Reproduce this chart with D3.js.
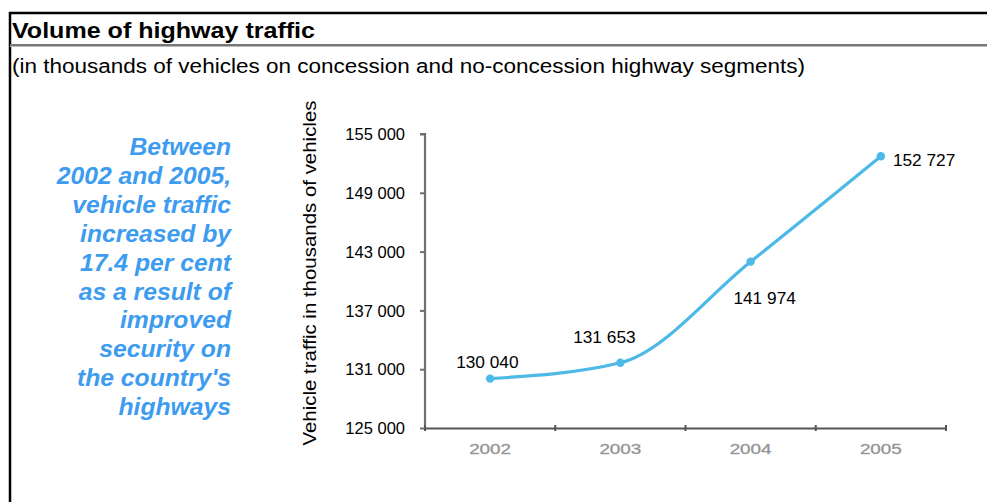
<!DOCTYPE html>
<html><head><meta charset="utf-8">
<script src="https://cdn.jsdelivr.net/npm/d3@7"></script>
<style>body{margin:0;background:#fff}svg{display:block}</style>
</head><body>
<script>
const title = "Volume of highway traffic";
const subtitle = "(in thousands of vehicles on concession and no-concession highway segments)";
const years = ["2002", "2003", "2004", "2005"];
const traffic = [130040, 131653, 141974, 152727];
const valueLabels = ["130 040", "131 653", "141 974", "152 727"];
const yTicks = [125000, 131000, 137000, 143000, 149000, 155000];
const yTitle = "Vehicle traffic in thousands of vehicles";
const note = ["Between", "2002 and 2005,", "vehicle traffic", "increased by", "17.4 per cent", "as a result of", "improved", "security on", "the country's", "highways"];

const W = 987, H = 502;
const svg = d3.select("body").append("svg").attr("width", W).attr("height", H);
const font = "'Liberation Sans', Arial, sans-serif";

// frame
svg.append("line").attr("x1", 9).attr("x2", W).attr("y1", 13).attr("y2", 13).attr("stroke", "#000").attr("stroke-width", 2.5);
svg.append("line").attr("x1", 10).attr("x2", 10).attr("y1", 12).attr("y2", H).attr("stroke", "#000").attr("stroke-width", 2.5);
svg.append("line").attr("x1", 10).attr("x2", W).attr("y1", 45).attr("y2", 45).attr("stroke", "#777").attr("stroke-width", 2);
svg.append("line").attr("x1", 10).attr("x2", W).attr("y1", 46.5).attr("y2", 46.5).attr("stroke", "#bbb").attr("stroke-width", 1);

svg.append("text").attr("x", 12).attr("y", 38).attr("font-family", font).attr("font-weight", "bold")
  .attr("font-size", 21.5).attr("fill", "#000").attr("textLength", 303).attr("lengthAdjust", "spacingAndGlyphs").text(title);
svg.append("text").attr("x", 12).attr("y", 73).attr("font-family", font)
  .attr("font-size", 20).attr("fill", "#000").attr("textLength", 793).attr("lengthAdjust", "spacingAndGlyphs").text(subtitle);

// note
const nt = svg.append("text").attr("font-family", font).attr("font-weight", "bold").attr("font-style", "italic")
  .attr("font-size", 24.7).attr("fill", "#3d9cf0").attr("text-anchor", "end");
note.forEach((l, i) => nt.append("tspan").attr("x", 231).attr("y", 155 + i * 28.9).text(l));

// scales
const x0 = 425, x1 = 946, yb = 428, yt = 134;
const x = d3.scaleBand().domain(years).range([x0, x1]).padding(0);
const y = d3.scaleLinear().domain([125000, 155000]).range([yb, yt]);

// y axis
const ya = svg.append("g").attr("transform", `translate(${x0},0)`)
  .call(d3.axisLeft(y).tickValues(yTicks).tickSize(5).tickFormat((d) => d3.format(",")(d).replace(",", " ")));
ya.select(".domain").attr("stroke", "#6f6f6f").attr("stroke-width", 2.2).attr("d", `M-5,${yt}H0V${yb}`);
ya.selectAll(".tick line").attr("stroke", "#6f6f6f").attr("stroke-width", 2);
ya.selectAll(".tick text").attr("font-family", font).attr("font-size", 16.5).attr("fill", "#000").attr("x", -20).attr("dy", "0.35em");

// x axis
const xa = svg.append("g").attr("transform", `translate(0,${yb})`)
  .call(d3.axisBottom(x).tickSize(0).tickPadding(15));
xa.select(".domain").attr("stroke", "#555").attr("stroke-width", 2);
xa.selectAll(".tick text").attr("font-family", font).attr("font-size", 15).attr("fill", "#8a8a8a")
  .attr("stroke", "#aaa").attr("stroke-width", 0.4).attr("textLength", 42).attr("lengthAdjust", "spacingAndGlyphs");
// boundary ticks
xa.selectAll(".bt").data(years.concat(["end"])).enter().append("line").attr("class", "bt")
  .attr("x1", (d, i) => x0 + i * x.step()).attr("x2", (d, i) => x0 + i * x.step())
  .attr("y1", -3).attr("y2", 3).attr("stroke", "#555").attr("stroke-width", 2);

// line
const pts = years.map((d, i) => [x(d) + x.bandwidth() / 2, y(traffic[i])]);
svg.append("path").attr("d", d3.line().curve(d3.curveMonotoneX)(pts))
  .attr("fill", "none").attr("stroke", "#4cb9e6").attr("stroke-width", 3.2);
svg.selectAll(".pt").data(pts).enter().append("circle").attr("class", "pt")
  .attr("cx", (d) => d[0]).attr("cy", (d) => d[1]).attr("r", 4.2).attr("fill", "#4cb9e6");

// value labels
const labOff = [[-34, -11, "start"], [-16, -20, "middle"], [14, 42, "middle"], [12, 10, "start"]];
svg.selectAll(".vl").data(pts).enter().append("text").attr("class", "vl")
  .attr("x", (d, i) => d[0] + labOff[i][0]).attr("y", (d, i) => d[1] + labOff[i][1])
  .attr("text-anchor", (d, i) => labOff[i][2])
  .attr("font-family", font).attr("font-size", 17.3).attr("fill", "#000")
  .text((d, i) => valueLabels[i]);

// y title
svg.append("text").attr("transform", "translate(316,273) rotate(-90)").attr("text-anchor", "middle")
  .attr("font-family", font).attr("font-size", 19).attr("fill", "#000")
  .attr("textLength", 345).attr("lengthAdjust", "spacingAndGlyphs").text(yTitle);
</script>
</body></html>
